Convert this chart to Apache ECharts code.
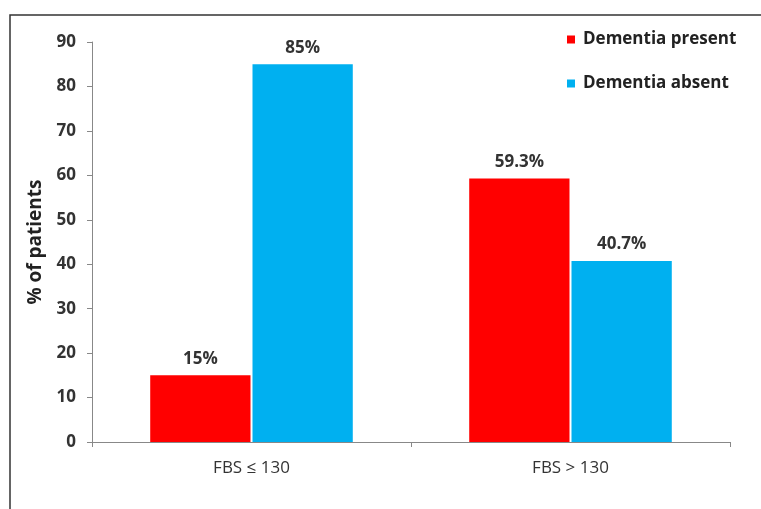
<!DOCTYPE html>
<html><head><meta charset="utf-8">
<script src="https://cdn.jsdelivr.net/npm/echarts@6/dist/echarts.min.js"></script>
<style>html,body{margin:0;padding:0;background:#fff}#c{width:761px;height:509px}</style>
</head><body><div id="c"></div>
<script>
var categories = ['FBS \u2264 130', 'FBS > 130'];
var presentValues = [15, 59.3];
var absentValues = [85, 40.7];
var seriesNames = ['Dementia present', 'Dementia absent'];
var yTicks = [0, 10, 20, 30, 40, 50, 60, 70, 80, 90];

var chart = echarts.init(document.getElementById('c'));
var font = 'Open Sans';
var lbl = {show: true, position: 'top', fontFamily: font, fontWeight: 'bold', fontSize: 17, color: '#333', formatter: '{c}%', distance: 8};
chart.setOption({
  animation: false,
  graphic: [{type: 'rect', shape: {x: 10, y: 15, width: 800, height: 600}, style: {fill: 'none', stroke: '#333', lineWidth: 1.5}}],
  legend: {orient: 'vertical', left: 562, top: 26, itemWidth: 8, itemHeight: 8, itemGap: 27,
    icon: 'rect', textStyle: {fontFamily: font, fontWeight: 'bold', fontSize: 17, color: '#222', padding: [0, 0, 0, 3]}, data: seriesNames},
  grid: {left: 92, right: 31, top: 42, bottom: 67},
  xAxis: {type: 'category', data: categories,
    axisLine: {lineStyle: {color: '#888'}}, axisTick: {show: true, length: 5, lineStyle: {color: '#888'}},
    axisLabel: {fontFamily: font, fontSize: 17, color: '#333', margin: 18}},
  yAxis: {type: 'value', min: yTicks[0], max: yTicks[yTicks.length - 1], interval: 10,
    name: '% of patients', nameLocation: 'middle', nameGap: 47, nameRotate: 90,
    nameTextStyle: {fontFamily: font, fontWeight: 'bold', fontSize: 19, color: '#222', padding: [0, 0, 0, 0]},
    axisLine: {show: true, lineStyle: {color: '#888'}}, axisTick: {show: true, length: 5, lineStyle: {color: '#888'}},
    splitLine: {show: false},
    axisLabel: {fontFamily: font, fontWeight: 'bold', fontSize: 17, color: '#333', margin: 16}},
  series: [
    {name: seriesNames[0], type: 'bar', data: presentValues, itemStyle: {color: '#FF0000'}, barGap: '2%', barCategoryGap: '36.5%', label: lbl},
    {name: seriesNames[1], type: 'bar', data: absentValues, itemStyle: {color: '#00B0F0'}, label: lbl}
  ]
});
</script></body></html>
